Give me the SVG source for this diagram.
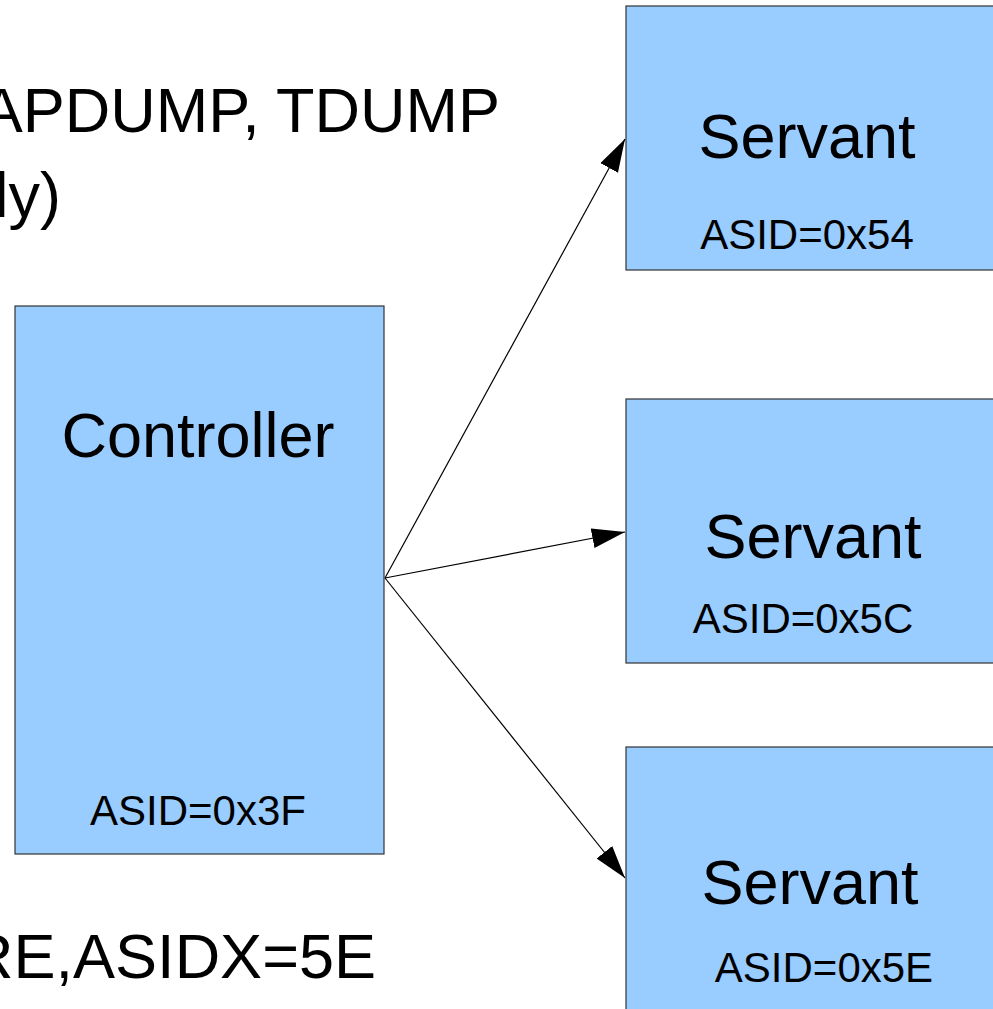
<svg xmlns="http://www.w3.org/2000/svg" width="993" height="1009" viewBox="0 0 993 1009">
  <style>
    .box { fill: #99ccff; stroke: #333333; stroke-width: 1.2; }
    .t { font-family: "Liberation Sans", Arial, sans-serif; fill: #000000; }
    .big { font-size: 63px; }
    .small { font-size: 42px; }
    .link { stroke: #000000; stroke-width: 1.2; fill: none; marker-end: url(#arrow); }
  </style>
  <defs>
    <marker id="arrow" markerUnits="userSpaceOnUse" markerWidth="34" markerHeight="22" refX="33" refY="10" orient="auto">
      <path d="M0,0 L33,10 L0,20 Z" fill="#000000"/>
    </marker>
  </defs>
  <rect width="993" height="1009" fill="#ffffff"/>

  <!-- free-standing notes -->
  <g id="notes" class="t big">
    <text x="500" y="132" text-anchor="end">APDUMP, TDUMP</text>
    <text x="61" y="217" text-anchor="end">ly)</text>
    <text x="376" y="978" text-anchor="end">RE,ASIDX=5E</text>
  </g>

  <g id="controller">
    <rect class="box" x="15" y="306" width="369" height="548"/>
    <text class="t big" x="198" y="457" text-anchor="middle">Controller</text>
    <text class="t small" x="198" y="825" text-anchor="middle">ASID=0x3F</text>
  </g>

  <g id="servant-54">
    <rect class="box" x="626" y="6" width="400" height="264"/>
    <text class="t big" x="807" y="158" text-anchor="middle">Servant</text>
    <text class="t small" x="807" y="249" text-anchor="middle">ASID=0x54</text>
  </g>

  <g id="servant-5C">
    <rect class="box" x="626" y="399" width="400" height="264"/>
    <text class="t big" x="813" y="558" text-anchor="middle">Servant</text>
    <text class="t small" x="803" y="633" text-anchor="middle">ASID=0x5C</text>
  </g>

  <g id="servant-5E">
    <rect class="box" x="626" y="747" width="400" height="300"/>
    <text class="t big" x="810" y="904" text-anchor="middle">Servant</text>
    <text class="t small" x="824" y="982" text-anchor="middle">ASID=0x5E</text>
  </g>

  <g id="connectors">
    <line class="link" x1="385" y1="578" x2="625" y2="139"/>
    <line class="link" x1="385" y1="578" x2="625" y2="532"/>
    <line class="link" x1="385" y1="578" x2="625" y2="878"/>
  </g>
</svg>
